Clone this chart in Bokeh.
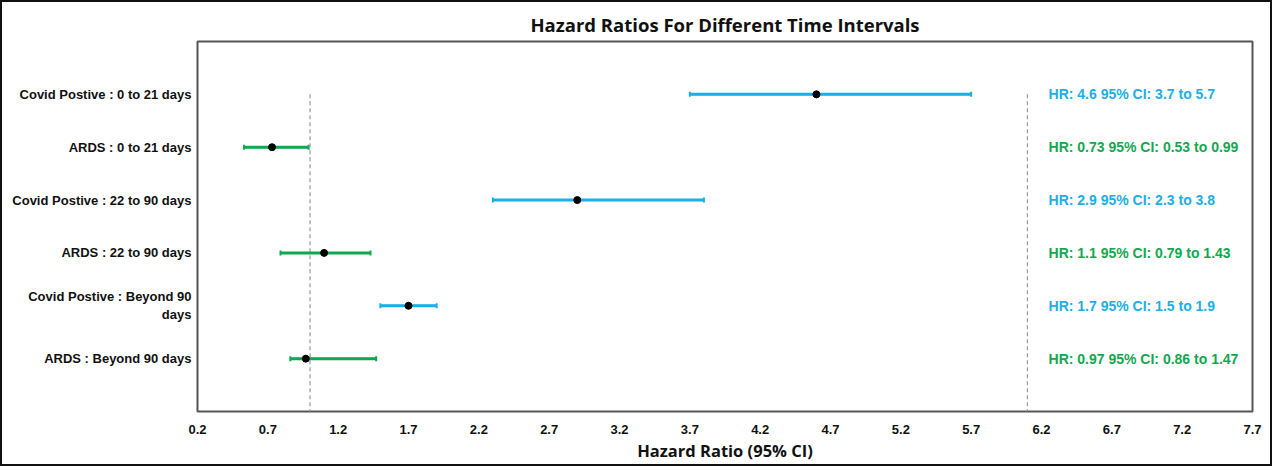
from bokeh.plotting import figure
from bokeh.models import ColumnDataSource, FixedTicker, Range1d, Whisker
from bokeh.embed import file_html
from bokeh.resources import INLINE
from bokeh.core.properties import value

labels = ["Covid Postive : 0 to 21 days", "ARDS : 0 to 21 days",
          "Covid Postive : 22 to 90 days", "ARDS : 22 to 90 days",
          "Covid Postive : Beyond 90\ndays", "ARDS : Beyond 90 days"]
hr = [4.6, 0.73, 2.9, 1.1, 1.7, 0.97]
lo = [3.7, 0.53, 2.3, 0.79, 1.5, 0.86]
hi = [5.7, 0.99, 3.8, 1.43, 1.9, 1.47]
group = ["covid", "ards", "covid", "ards", "covid", "ards"]
ref_lines = [1.0, 6.1]
x_ticks = [0.2, 0.7, 1.2, 1.7, 2.2, 2.7, 3.2, 3.7, 4.2, 4.7, 5.2, 5.7, 6.2, 6.7, 7.2, 7.7]

BLUE = "#1AAFE6"
GREEN = "#12A84F"
colors = [BLUE if g == "covid" else GREEN for g in group]
ypos = [6 - i for i in range(len(labels))]
texts = [f"HR: {h} 95% CI: {l} to {u}" for h, l, u in zip(hr, lo, hi)]

src = ColumnDataSource(dict(y=ypos, hr=hr, lo=lo, hi=hi, c=colors, t=texts,
                            tx=[6.25] * len(hr)))

p = figure(frame_width=1055, frame_height=370, output_backend="svg", toolbar_location=None,
           x_range=Range1d(0.2, 7.7), y_range=Range1d(0, 7),
           min_border_left=195, min_border_right=18, min_border_top=39, min_border_bottom=50)
p.styles = {"border": "2px solid #111"}

p.title.text = "Hazard Ratios For Different Time Intervals"
p.title.align = "center"
p.title.text_font = "Open Sans"
p.title.text_font_size = "18.5px"
p.title.text_font_style = "bold"
p.title.text_color = "#111"

p.grid.visible = False
p.outline_line_color = "#555"
p.outline_line_width = 2

# reference dashed lines
for rx in ref_lines:
    p.segment(x0=[rx], y0=[6], x1=[rx], y1=[0], line_color="#9a9a9a",
              line_dash="4 3", line_width=1.2)

p.segment(x0="lo", y0="y", x1="hi", y1="y", source=src, line_color="c", line_width=3)
w = Whisker(base="y", lower="lo", upper="hi", source=src, dimension="width",
            line_color="c", line_width=2)
w.upper_head.size = 5
w.lower_head.size = 5
w.upper_head.line_color = "c"
w.lower_head.line_color = "c"
w.upper_head.line_width = 2
w.lower_head.line_width = 2
p.add_layout(w)
p.scatter(x="hr", y="y", source=src, size=7, color="black")

p.text(x="tx", y="y", text="t", source=src, text_color="c",
       text_font=value("Liberation Sans"), text_font_style="bold",
       text_font_size="14px", text_baseline="middle", text_align="left")

p.xaxis.ticker = FixedTicker(ticks=x_ticks)
p.xaxis.major_label_overrides = {t: f"{t:.1f}" for t in x_ticks}
p.xaxis.axis_label = "Hazard Ratio (95% CI)"
p.xaxis.axis_label_text_font = "Open Sans"
p.xaxis.axis_label_text_font_style = "bold"
p.xaxis.axis_label_text_font_size = "16.5px"
p.xaxis.axis_label_text_color = "#111"
p.xaxis.axis_label_standoff = 2
p.xaxis.major_label_text_font = "Liberation Sans"
p.xaxis.major_label_text_font_style = "bold"
p.xaxis.major_label_text_font_size = "13px"
p.xaxis.major_label_text_color = "#111"
p.xaxis.major_label_standoff = 13
p.xaxis.axis_line_color = None
p.xaxis.major_tick_line_color = None
p.xaxis.minor_tick_line_color = None
p.xaxis.major_tick_out = 0
p.xaxis.major_tick_in = 0

p.yaxis.ticker = FixedTicker(ticks=ypos)
p.yaxis.major_label_overrides = {y: l for y, l in zip(ypos, labels)}
p.yaxis.major_label_text_font = "Liberation Sans"
p.yaxis.major_label_text_font_style = "bold"
p.yaxis.major_label_text_font_size = "13px"
p.yaxis.major_label_text_color = "#111"
p.yaxis.major_label_standoff = 6
p.yaxis.axis_line_color = None
p.yaxis.major_tick_line_color = None
p.yaxis.minor_tick_line_color = None
p.yaxis.major_tick_out = 0
p.yaxis.major_tick_in = 0

open("out.html", "w").write(file_html(p, INLINE))
